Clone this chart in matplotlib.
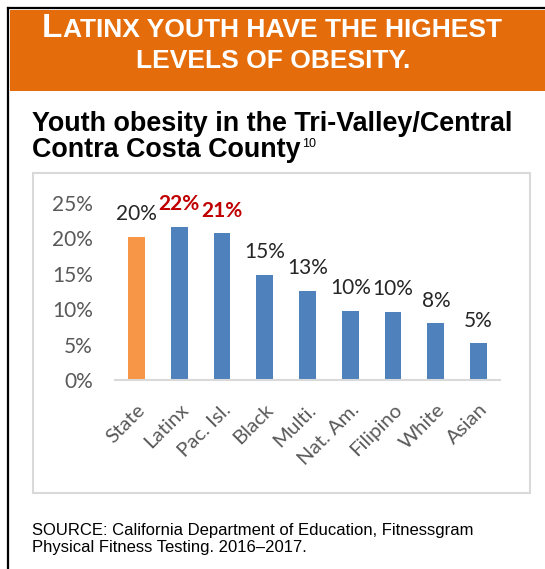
import matplotlib
matplotlib.use("Agg")
import matplotlib.pyplot as plt
from matplotlib.patches import Rectangle
from matplotlib.lines import Line2D

# data
groups = ["State", "Latinx", "Pac. Isl.", "Black", "Multi.", "Nat. Am.", "Filipino", "White", "Asian"]
values = [20.2, 21.6, 20.7, 14.9, 12.6, 9.8, 9.6, 8.0, 5.2]
labels = ["20%", "22%", "21%", "15%", "13%", "10%", "10%", "8%", "5%"]
yticks = [0, 5, 10, 15, 20, 25]

W, H = 545, 569
fig = plt.figure(figsize=(W / 100, H / 100), dpi=100)

def fx(px):
    return px / W

def fy(py):
    return 1 - py / H

# frame + banner
fig.add_artist(Rectangle((fx(10), fy(91)), fx(545) - fx(10), fy(10) - fy(91),
                         transform=fig.transFigure, color="#E46C0A", lw=0))
fig.add_artist(Line2D([fx(8), fx(545)], [fy(8), fy(8)], transform=fig.transFigure, color="black", lw=1.6))
fig.add_artist(Line2D([fx(8), fx(8)], [fy(8), fy(569)], transform=fig.transFigure, color="black", lw=1.6))

# banner text, small caps done by hand
ban = dict(color="white", fontweight="bold", family="Liberation Sans", va="baseline")
fig.canvas.draw()
r = fig.canvas.get_renderer()
t1 = fig.text(0, fy(37), "L", fontsize=24, **ban)
t2 = fig.text(0, fy(37), "ATINX YOUTH HAVE THE HIGHEST", fontsize=19, **ban)
w1 = t1.get_window_extent(r).width
w2 = t2.get_window_extent(r).width
x0 = 271 - (w1 + w2) / 2
t1.set_x(fx(x0))
t2.set_x(fx(x0 + w1 + 1))
fig.text(fx(273), fy(68), "LEVELS OF OBESITY.", fontsize=19, ha="center", **ban)

# title
fig.text(fx(32), fy(131), "Youth obesity in the Tri-Valley/Central", fontsize=19.4, fontweight="bold",
         family="Liberation Sans", va="baseline")
tt = fig.text(fx(32), fy(157), "Contra Costa County", fontsize=19.4, fontweight="bold",
              family="Liberation Sans", va="baseline")
wt = tt.get_window_extent(r).width
fig.text(fx(32 + wt + 1), fy(147), "10", fontsize=9, family="Liberation Sans", va="baseline")

# chart box
fig.add_artist(Rectangle((fx(33), fy(493)), fx(530) - fx(33), fy(173) - fy(493),
                         transform=fig.transFigure, fill=False, ec="#D9D9D9", lw=1.5))

# axes
ax = fig.add_axes([fx(115), fy(380), fx(500) - fx(115), fy(203) - fy(380)])
colors = ["#F79646"] + ["#4F81BD"] * (len(groups) - 1)
x = range(len(groups))
ax.bar(x, values, width=0.39, color=colors)
for i, (v, lab) in enumerate(zip(values, labels)):
    hot = lab in ("22%", "21%")
    ax.annotate(lab, (i, v), xytext=(0, 12), textcoords="offset points", ha="center", va="baseline",
                fontsize=15, fontweight="bold" if hot else "normal",
                color="#C00000" if hot else "#262626", family="Lato", annotation_clip=False)

ax.set_xlim(-0.5, 8.5)
ax.set_ylim(0, 25)
ax.set_yticks(yticks)
ax.set_yticklabels([f"{t}%" for t in yticks], fontsize=15, color="#595959", family="Lato")
ax.set_xticks(list(x))
ax.set_xticklabels(groups, rotation=45, ha="right", rotation_mode="anchor", fontsize=14.7,
                   color="#595959", family="Lato")
ax.tick_params(axis="both", length=0)
ax.tick_params(axis="y", pad=16)
ax.tick_params(axis="x", pad=15)
for s in ["top", "right", "left"]:
    ax.spines[s].set_visible(False)
ax.spines["bottom"].set_color("#D9D9D9")
ax.spines["bottom"].set_linewidth(1.5)

# source
fig.text(fx(32), fy(535), "SOURCE: California Department of Education, Fitnessgram", fontsize=12,
         family="Liberation Sans", va="baseline")
fig.text(fx(32), fy(552), "Physical Fitness Testing. 2016\u20132017.", fontsize=12,
         family="Liberation Sans", va="baseline")

fig.savefig("out.png", dpi=100)
